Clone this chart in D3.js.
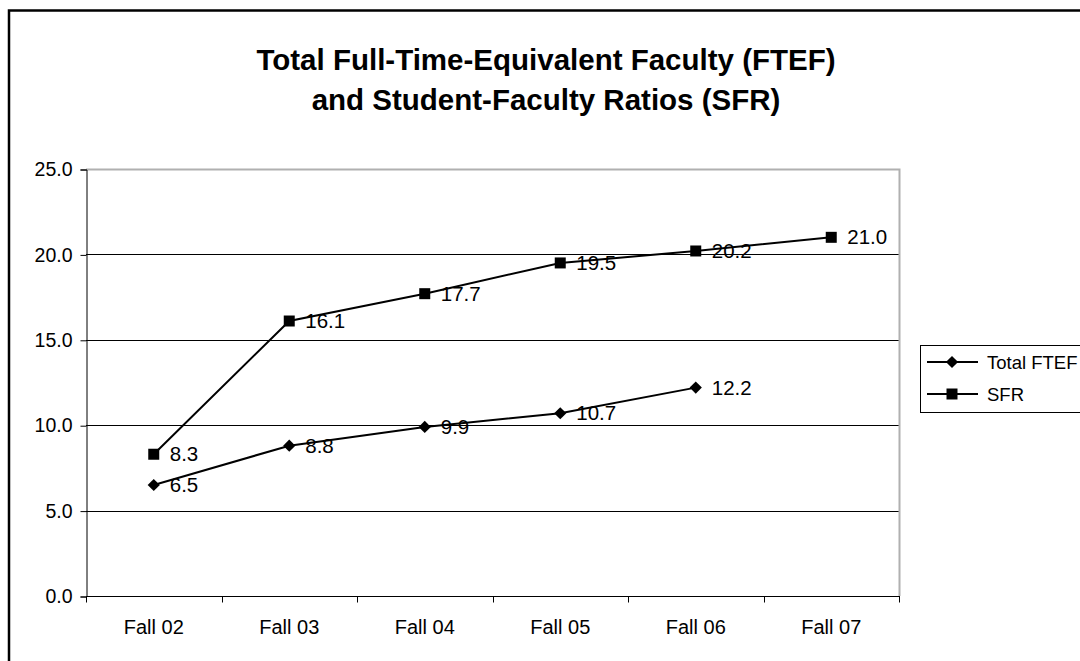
<!DOCTYPE html>
<html>
<head>
<meta charset="utf-8">
<script src="https://cdn.jsdelivr.net/npm/d3@7"></script>
<style>
  body { margin: 0; background: #fff; }
  text { font-family: "Liberation Sans", Arial, sans-serif; fill: #000; }
</style>
</head>
<body>
<div id="chart"></div>
<script>
// Chart data
var categories = ["Fall 02", "Fall 03", "Fall 04", "Fall 05", "Fall 06", "Fall 07"];
var ftefValues = [6.5, 8.8, 9.9, 10.7, 12.2];
var sfrValues = [8.3, 16.1, 17.7, 19.5, 20.2, 21.0];
var yTicks = [0, 5, 10, 15, 20, 25];
var titleLines = ["Total Full-Time-Equivalent Faculty (FTEF)", "and Student-Faculty Ratios (SFR)"];

var svgWidth = 1080;
var svgHeight = 661;

// plot area in page pixels
var plot = { left: 86, top: 169, right: 899, bottom: 596 };

var svg = d3.select("#chart")
  .append("svg")
  .attr("width", svgWidth)
  .attr("height", svgHeight);

// outer chart border (runs off the page on the right and bottom)
svg.append("rect")
  .attr("x", 9)
  .attr("y", 10.5)
  .attr("width", 1100)
  .attr("height", 700)
  .attr("fill", "none")
  .attr("stroke", "#000")
  .attr("stroke-width", 2.5);

// title
svg.append("text")
  .attr("text-anchor", "middle")
  .attr("font-weight", "bold")
  .attr("font-size", 29.5)
  .selectAll("tspan")
  .data(titleLines)
  .enter()
  .append("tspan")
  .attr("x", 546)
  .attr("y", (d, i) => 70 + i * 40)
  .text(d => d);

// scales
var xScale = d3.scaleBand()
  .domain(categories)
  .range([plot.left, plot.right]);

var yScale = d3.scaleLinear()
  .domain([0, 25])
  .range([plot.bottom, plot.top]);

// gridlines
svg.append("g")
  .selectAll("line")
  .data(yTicks.filter(d => d > 0 && d < 25))
  .enter()
  .append("line")
  .attr("x1", plot.left)
  .attr("x2", plot.right)
  .attr("y1", d => Math.round(yScale(d)) + 0.5)
  .attr("y2", d => Math.round(yScale(d)) + 0.5)
  .attr("stroke", "#000")
  .attr("stroke-width", 1);

// gray plot border on top and right
svg.append("path")
  .attr("d", `M${plot.left},${plot.top + 0.5}H${plot.right + 0.5}V${plot.bottom}`)
  .attr("fill", "none")
  .attr("stroke", "#b0b0b0")
  .attr("stroke-width", 2);

// y axis
var yAxis = d3.axisLeft(yScale)
  .tickValues(yTicks)
  .tickFormat(d3.format(".1f"))
  .tickSize(6)
  .tickPadding(8);

var yG = svg.append("g")
  .attr("transform", `translate(${plot.left + 0.5}, 0.5)`)
  .call(yAxis);
yG.select(".domain").attr("stroke", "#000");
yG.selectAll("text")
  .attr("font-size", 19.5)
  .attr("font-family", "Liberation Sans, Arial, sans-serif")
  .attr("fill", "#000");

// x axis, ticks sit between the categories
var xG = svg.append("g")
  .attr("transform", `translate(0, ${plot.bottom + 0.5})`);

xG.append("line")
  .attr("x1", plot.left)
  .attr("x2", plot.right + 1)
  .attr("stroke", "#000");

var boundaries = categories.map(c => xScale(c)).concat([xScale.range()[1]]);
xG.selectAll(".tick")
  .data(boundaries)
  .enter()
  .append("line")
  .attr("x1", d => Math.round(d) + 0.5)
  .attr("x2", d => Math.round(d) + 0.5)
  .attr("y1", 0)
  .attr("y2", 6)
  .attr("stroke", "#000");

xG.selectAll("text")
  .data(categories)
  .enter()
  .append("text")
  .attr("x", d => xScale(d) + xScale.bandwidth() / 2)
  .attr("y", 37)
  .attr("text-anchor", "middle")
  .attr("font-size", 20)
  .text(d => d);

// series lines
var cx = (d, i) => xScale(categories[i]) + xScale.bandwidth() / 2;
var line = d3.line()
  .x(cx)
  .y(d => yScale(d));

svg.append("path")
  .datum(sfrValues)
  .attr("d", line)
  .attr("fill", "none")
  .attr("stroke", "#000")
  .attr("stroke-width", 2);

svg.append("path")
  .datum(ftefValues)
  .attr("d", line)
  .attr("fill", "none")
  .attr("stroke", "#000")
  .attr("stroke-width", 2);

// markers
var diamond = d3.symbol().type(d3.symbolDiamond2).size(95);
var square = d3.symbol().type(d3.symbolSquare).size(121);

svg.append("g")
  .selectAll("path")
  .data(ftefValues)
  .enter()
  .append("path")
  .attr("d", diamond)
  .attr("transform", (d, i) => `translate(${cx(d, i)}, ${yScale(d)})`)
  .attr("fill", "#000");

svg.append("g")
  .selectAll("path")
  .data(sfrValues)
  .enter()
  .append("path")
  .attr("d", square)
  .attr("transform", (d, i) => `translate(${cx(d, i)}, ${yScale(d)})`)
  .attr("fill", "#000");

// data labels
function addLabels(values) {
  svg.append("g")
    .selectAll("text")
    .data(values)
    .enter()
    .append("text")
    .attr("x", (d, i) => cx(d, i) + 16)
    .attr("y", d => yScale(d) + 7)
    .attr("font-size", 20.5)
    .text(d => d3.format(".1f")(d));
}
addLabels(ftefValues);
addLabels(sfrValues);

// legend
var legend = svg.append("g");
legend.append("rect")
  .attr("x", 920.5)
  .attr("y", 345.5)
  .attr("width", 200)
  .attr("height", 67)
  .attr("fill", "#fff")
  .attr("stroke", "#000");

var legendItems = [
  { name: "Total FTEF", symbol: diamond, y: 362 },
  { name: "SFR", symbol: square, y: 394 }
];

legendItems.forEach(function(item) {
  legend.append("line")
    .attr("x1", 927)
    .attr("x2", 978)
    .attr("y1", item.y)
    .attr("y2", item.y)
    .attr("stroke", "#000")
    .attr("stroke-width", 2);
  legend.append("path")
    .attr("d", item.symbol)
    .attr("transform", `translate(952, ${item.y})`)
    .attr("fill", "#000");
  legend.append("text")
    .attr("x", 987)
    .attr("y", item.y + 7)
    .attr("font-size", 18.5)
    .text(item.name);
});
</script>
</body>
</html>
